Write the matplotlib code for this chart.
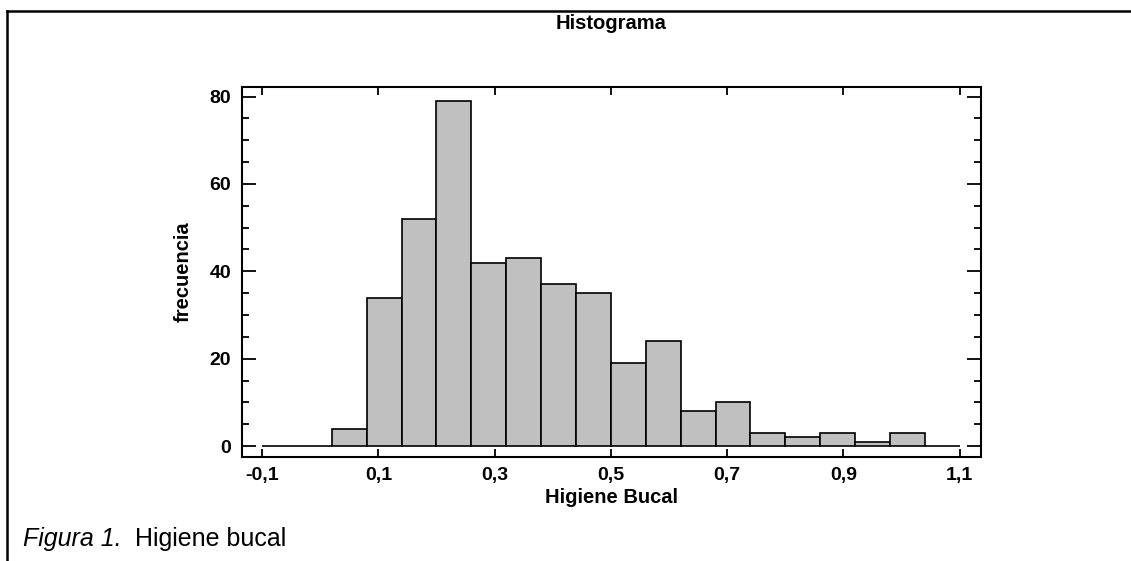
import matplotlib
matplotlib.use("Agg")
import matplotlib.pyplot as plt
import numpy as np

plt.rcParams['font.family'] = ['Liberation Sans', 'DejaVu Sans']

# histogram data
bin_edges = [-0.10, -0.04, 0.02, 0.08, 0.14, 0.20, 0.26, 0.32, 0.38, 0.44, 0.50,
             0.56, 0.62, 0.68, 0.74, 0.80, 0.86, 0.92, 0.98, 1.04, 1.10]
counts = [0, 0, 4, 34, 52, 79, 42, 43, 37, 35, 19, 24, 8, 10, 3, 2, 3, 1, 3, 0]

x_ticks = [-0.1, 0.1, 0.3, 0.5, 0.7, 0.9, 1.1]
x_tick_labels = ['-0,1', '0,1', '0,3', '0,5', '0,7', '0,9', '1,1']
y_ticks = [0, 20, 40, 60, 80]

edges = np.array(bin_edges)

fig = plt.figure(figsize=(11.31, 5.61), dpi=100)
ax = fig.add_axes([0.214, 0.1854, 0.653, 0.6596])

ax.bar(edges[:-1], counts, width=np.diff(edges), align='edge',
       color='#c0c0c0', edgecolor='black', linewidth=1.2)

ax.set_xlim(-0.1345, 1.136)
ax.set_ylim(-2.5, 82.2)
ax.set_xticks(x_ticks)
ax.set_xticklabels(x_tick_labels, fontsize=14, fontweight='bold')
ax.set_yticks(y_ticks)
ax.set_yticklabels([str(v) for v in y_ticks], fontsize=14, fontweight='bold')
ax.set_yticks(np.arange(0, 81, 5), minor=True)
ax.tick_params(axis='y', which='major', direction='in', length=10, width=1.3,
               left=True, right=True, pad=8)
ax.tick_params(axis='y', which='minor', direction='in', length=5, width=1.3,
               left=True, right=True)
ax.tick_params(axis='x', which='major', direction='in', length=6, width=1.3,
               bottom=True, top=True, pad=7)
for s in ax.spines.values():
    s.set_linewidth(1.5)

fig.text(0.5405, 0.959, 'Histograma', ha='center', va='center',
         fontsize=14.5, fontweight='bold')
ax.set_xlabel('Higiene Bucal', fontsize=14.5, fontweight='bold', labelpad=3)
ax.set_ylabel('frecuencia', fontsize=14.5, fontweight='bold', labelpad=12)

# frame lines of the page and caption
fig.add_artist(plt.Line2D([0.0062, 1.0], [0.981, 0.981], color='black', linewidth=1.8))
fig.add_artist(plt.Line2D([0.0062, 0.0062], [0.0, 0.981], color='black', linewidth=1.8))
fig.text(0.02, 0.04, 'Figura 1.', fontsize=18, style='italic', va='center')
fig.text(0.119, 0.04, 'Higiene bucal', fontsize=18, va='center')

plt.savefig("out.png", dpi=100)
